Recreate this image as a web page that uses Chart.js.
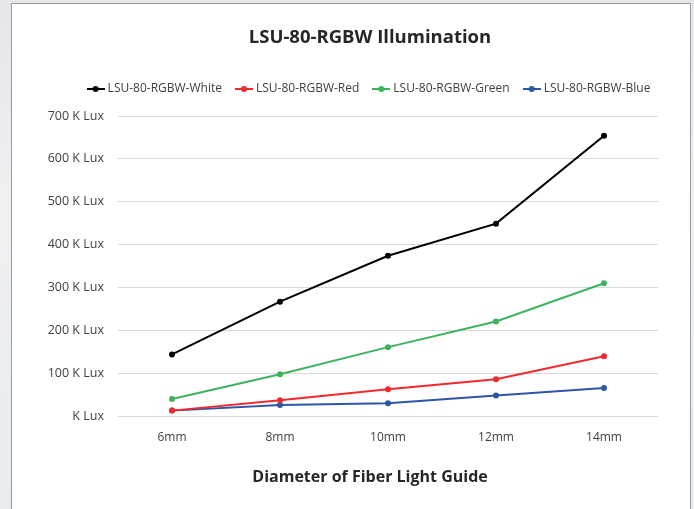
<!DOCTYPE html>
<html>
<head>
    <title>LSU-80-RGBW Illumination</title>
    <script src="https://cdn.jsdelivr.net/npm/chart.js"></script>
    <style>
        html, body { margin: 0; padding: 0; }
        body {
            width: 694px; height: 509px; overflow: hidden;
            background: linear-gradient(180deg, #e4e6ea 0%, #eef0f2 40%, #e9ecef 100%);
        }
        .panel {
            position: absolute; left: 11px; top: 3px;
            width: 678px; height: 520px;
            border: 1px solid #9a9a9a;
            background: #fff; overflow: hidden;
        }
        .panel canvas { position: absolute; left: 0; top: 0; }
    </style>
</head>
<body>
    <div class="panel">
        <canvas id="chartContainer" width="716" height="505"></canvas>
    </div>

    <script>
        // values (K Lux)
        const diameters = ['6mm', '8mm', '10mm', '12mm', '14mm'];
        const whiteLux = [144, 267, 374, 449, 654];
        const redLux = [13, 37, 63, 86, 140];
        const greenLux = [40, 98, 161, 221, 310];
        const blueLux = [13, 26, 30, 48, 66];
        const yTicks = [0, 100, 200, 300, 400, 500, 600, 700];

        const colors = {
            white: '#000000',
            red: '#f22a2e',
            green: '#3cb35c',
            blue: '#2e56a6'
        };

        // small line-with-dot picture used in the legend
        function legendMarker(color) {
            const c = document.createElement('canvas');
            c.width = 18;
            c.height = 8;
            const g = c.getContext('2d');
            g.strokeStyle = color;
            g.lineWidth = 2;
            g.beginPath();
            g.moveTo(0, 4);
            g.lineTo(18, 4);
            g.stroke();
            g.fillStyle = color;
            g.beginPath();
            g.arc(9, 4, 3, 0, Math.PI * 2);
            g.fill();
            return c;
        }

        function series(label, data, color) {
            return {
                label: label,
                data: data,
                borderColor: color,
                backgroundColor: color,
                borderWidth: 2,
                pointRadius: 3,
                pointBorderWidth: 0,
                pointStyle: 'circle',
                fill: false,
                tension: 0,
                legendImage: legendMarker(color)
            };
        }

        // extra room under the legend
        const legendGap = {
            id: 'legendGap',
            beforeInit(chart) {
                const fit = chart.legend.fit;
                chart.legend.fit = function () {
                    fit.call(chart.legend);
                    this.height += 11;
                };
            }
        };

        const ctx = document.getElementById('chartContainer').getContext('2d');
        new Chart(ctx, {
            type: 'line',
            data: {
                labels: diameters,
                datasets: [
                    series('LSU-80-RGBW-White', whiteLux, colors.white),
                    series('LSU-80-RGBW-Red', redLux, colors.red),
                    series('LSU-80-RGBW-Green', greenLux, colors.green),
                    series('LSU-80-RGBW-Blue', blueLux, colors.blue)
                ]
            },
            plugins: [legendGap],
            options: {
                responsive: false,
                animation: false,
                layout: { padding: 0 },
                plugins: {
                    title: {
                        display: true,
                        text: 'LSU-80-RGBW Illumination',
                        color: '#262626',
                        font: { family: 'Open Sans', size: 18.5, weight: 'bold' },
                        padding: { top: 22.9, bottom: 17.9 }
                    },
                    subtitle: {
                        display: true,
                        position: 'bottom',
                        text: 'Diameter of Fiber Light Guide',
                        color: '#262626',
                        font: { family: 'Open Sans', size: 16, weight: 'bold' },
                        padding: { top: 9.2, bottom: 22.4 }
                    },
                    legend: {
                        display: true,
                        position: 'top',
                        labels: {
                            color: '#404040',
                            font: { family: 'Open Sans', size: 12 },
                            usePointStyle: true,
                            pointStyleWidth: 12,
                            padding: 16,
                            generateLabels(chart) {
                                return chart.data.datasets.map((ds, i) => ({
                                    text: ds.label,
                                    fontColor: '#404040',
                                    pointStyle: ds.legendImage,
                                    strokeStyle: ds.borderColor,
                                    fillStyle: ds.borderColor,
                                    lineWidth: 0,
                                    datasetIndex: i,
                                    hidden: false
                                }));
                            }
                        }
                    },
                    tooltip: { enabled: false }
                },
                scales: {
                    x: {
                        offset: true,
                        grid: { display: false, drawTicks: false },
                        border: { display: false },
                        ticks: {
                            color: '#404040',
                            font: { family: 'Open Sans', size: 12 },
                            padding: 13.8,
                            maxRotation: 0
                        }
                    },
                    y: {
                        min: 0,
                        max: 700,
                        afterFit(scale) { scale.width = 106; },
                        afterBuildTicks(scale) {
                            scale.ticks = yTicks.map(v => ({ value: v }));
                        },
                        grid: { color: '#d9d9d9', lineWidth: 1, drawTicks: false },
                        border: { display: false },
                        ticks: {
                            color: '#404040',
                            font: { family: 'Open Sans', size: 12.5 },
                            padding: 14,
                            callback: v => (v === 0 ? 'K Lux' : v + ' K Lux')
                        }
                    },
                    // empty right margin so the titles stay centred on the panel
                    yRight: {
                        position: 'right',
                        afterFit(scale) { scale.width = 70; },
                        grid: { display: false, drawTicks: false },
                        border: { display: false },
                        ticks: { display: false }
                    }
                }
            }
        });
    </script>
</body>
</html>
